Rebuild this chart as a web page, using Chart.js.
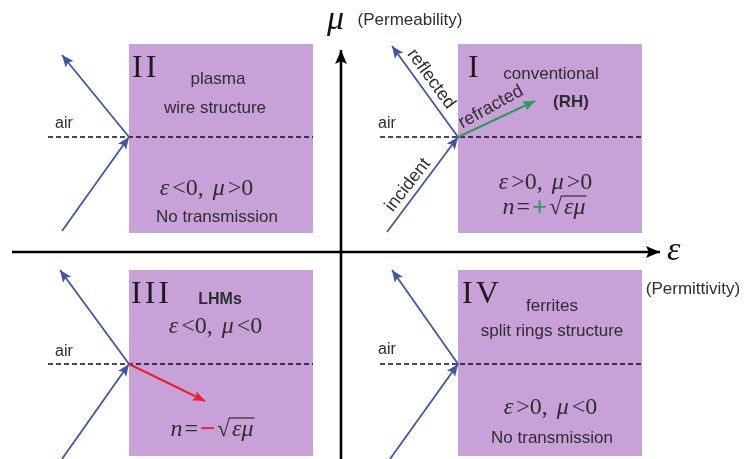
<!DOCTYPE html>
<html>
<head>
<meta charset="utf-8">
<script src="https://cdn.jsdelivr.net/npm/chart.js@4.4.1/dist/chart.umd.min.js"></script>
<style>
  html, body { margin: 0; padding: 0; background: #fff; }
</style>
</head>
<body>
<canvas id="diagram" width="755" height="459"></canvas>
<script>
'use strict';

// diagram space follows the picture: x 0..755 to the right, y 0..459 downwards
// quadrant order: I, II, III, IV
var quadrants = ['I', 'II', 'III', 'IV'];
var materials = ['conventional', 'plasma', 'LHMs', 'ferrites'];
var structures = ['(RH)', 'wire structure', '', 'split rings structure'];
var signs = [['ε', '>0, ', 'μ', '>0'], ['ε', '<0, ', 'μ', '>0'], ['ε', '<0, ', 'μ', '<0'], ['ε', '>0, ', 'μ', '<0']];
var boxLeft = [458, 129, 129, 458];
var boxRight = [642, 313, 313, 642];
var boxTop = [44, 44, 270, 270];
var boxBottom = [233, 233, 456, 456];
var interfaceY = [137, 137, 364, 364];
var airLeft = [380, 48, 48, 380];
var incidentFromX = [387, 62, 62, 390];
var incidentFromY = [232, 231, 459, 459];
var reflectedToX = [392, 62, 60, 392];
var reflectedToY = [46, 55, 270, 270];
var refractedToX = [535, null, 205, null];
var refractedToY = [101, null, 401, null];
// main axes: permittivity (horizontal) and permeability (vertical)
var epsAxisX = [12, 660];
var epsAxisY = 252;
var muAxisX = 341;
var muAxisY = [459, 50];

var BLUE = '#4156a6';
var GREEN = '#2f9a58';
var RED = '#e8212b';
var INK = '#2e2e2e';
var serif = '"Liberation Serif", "Times New Roman", serif';
var sans = '"Liberation Sans", Arial, sans-serif';

function seg(x0, y0, x1, y1) {
  return [{x: x0, y: y0}, {x: x1, y: y1}];
}

var datasets = [];
for (let i = 0; i < quadrants.length; ++i) {
  datasets.push({
    label: 'box ' + quadrants[i],
    data: seg(boxLeft[i], boxBottom[i], boxRight[i], boxBottom[i]),
    showLine: true, pointRadius: 0, borderWidth: 0,
    backgroundColor: '#c7a1d7',
    fill: {target: {value: boxTop[i]}},
    order: 5
  });
  datasets.push({
    label: 'interface ' + quadrants[i],
    data: seg(airLeft[i], interfaceY[i], boxRight[i], interfaceY[i]),
    showLine: true, pointRadius: 0, borderWidth: 1.7,
    borderColor: '#111', borderDash: [5, 3], order: 3
  });
  datasets.push({
    label: 'incident ' + quadrants[i], head: true,
    data: seg(incidentFromX[i], incidentFromY[i], boxLeft[i], interfaceY[i]),
    showLine: true, pointRadius: 0, borderWidth: 1.8, borderColor: BLUE, order: 2
  });
  datasets.push({
    label: 'reflected ' + quadrants[i], head: true,
    data: seg(boxLeft[i], interfaceY[i], reflectedToX[i], reflectedToY[i]),
    showLine: true, pointRadius: 0, borderWidth: 1.8, borderColor: BLUE, order: 2
  });
  if (refractedToX[i] !== null) {
    datasets.push({
      label: 'refracted ' + quadrants[i], head: true,
      data: seg(boxLeft[i], interfaceY[i], refractedToX[i], refractedToY[i]),
      showLine: true, pointRadius: 0, borderWidth: 2,
      borderColor: i === 0 ? GREEN : RED, order: 1
    });
  }
}
datasets.push({
  label: 'permittivity', head: true, headSize: 14,
  data: seg(epsAxisX[0], epsAxisY, epsAxisX[1], epsAxisY),
  showLine: true, pointRadius: 0, borderWidth: 2.6, borderColor: '#000', order: 4
});
datasets.push({
  label: 'permeability', head: true, headSize: 14,
  data: seg(muAxisX, muAxisY[0], muAxisX, muAxisY[1]),
  showLine: true, pointRadius: 0, borderWidth: 2.6, borderColor: '#000', order: 4
});

// arrow heads at the last point of every dataset flagged with head
var arrowHeads = {
  id: 'arrowHeads',
  afterDatasetsDraw: function(chart) {
    var ctx = chart.ctx;
    chart.data.datasets.forEach(function(ds, i) {
      if (!ds.head) return;
      var pts = chart.getDatasetMeta(i).data;
      var a = pts[pts.length - 2], b = pts[pts.length - 1];
      var ang = Math.atan2(b.y - a.y, b.x - a.x);
      var len = ds.headSize || 12, half = len * 0.42;
      ctx.save();
      ctx.translate(b.x, b.y);
      ctx.rotate(ang);
      ctx.fillStyle = ds.borderColor;
      ctx.beginPath();
      ctx.moveTo(0, 0);
      ctx.lineTo(-len, -half);
      ctx.lineTo(-len * 0.8, 0);
      ctx.lineTo(-len, half);
      ctx.closePath();
      ctx.fill();
      ctx.restore();
    });
  }
};

// text runs: [text, font, colour]; drawn centred on (cx, cy)
function drawRuns(ctx, parts, cx, cy, spacing) {
  ctx.textBaseline = 'middle';
  ctx.textAlign = 'left';
  var total = 0, widths = [];
  parts.forEach(function(p) {
    ctx.font = p[1];
    var w = ctx.measureText(p[0]).width + (spacing || 0);
    widths.push(w);
    total += w;
  });
  var x = cx - total / 2;
  var spans = [];
  parts.forEach(function(p, k) {
    ctx.font = p[1];
    ctx.fillStyle = p[2] || INK;
    ctx.fillText(p[0], x, cy);
    spans.push([x, x + widths[k]]);
    x += widths[k];
  });
  return spans;
}

var labels = {
  id: 'labels',
  afterDatasetsDraw: function(chart) {
    var ctx = chart.ctx;
    var sx = chart.scales.x, sy = chart.scales.y;
    function px(v) { return sx.getPixelForValue(v); }
    function py(v) { return sy.getPixelForValue(v); }
    ctx.save();

    // roman numerals
    var numX = [468, 132, 131, 462], numY = [77, 77, 303, 303];
    ctx.font = '32px ' + serif;
    ctx.fillStyle = '#1c1c1c';
    ctx.textAlign = 'left';
    ctx.textBaseline = 'alphabetic';
    ctx.letterSpacing = '3px';
    quadrants.forEach(function(q, i) { ctx.fillText(q, px(numX[i]), py(numY[i])); });
    ctx.letterSpacing = '0px';

    // material names and structures
    var matX = [551, 218, 220, 552], matY = [74, 79, 300, 306];
    var strX = [571, 215, 0, 552], strY = [102, 108, 0, 331];
    ctx.fillStyle = INK;
    ctx.textAlign = 'center';
    ctx.textBaseline = 'middle';
    materials.forEach(function(m, i) {
      ctx.font = (i === 2 ? 'bold 16px ' : '17px ') + sans;
      ctx.fillText(m, px(matX[i]), py(matY[i]));
      if (structures[i]) {
        ctx.font = (i === 0 ? 'bold 17px ' : '17px ') + sans;
        ctx.fillText(structures[i], px(strX[i]), py(strY[i]));
      }
    });
    ctx.font = '17px ' + sans;
    ctx.fillText('No transmission', px(217), py(217));
    ctx.fillText('No transmission', px(552), py(438));

    // air labels
    var airX = [387, 64, 64, 387], airY = [124, 124, 352, 350];
    ctx.font = '16px ' + sans;
    quadrants.forEach(function(q, i) { ctx.fillText('air', px(airX[i]), py(airY[i])); });

    // sign conditions
    var sigX = [547, 208, 217, 552], sigY = [183, 189, 327, 408];
    var it = 'italic 24px ' + serif, up = '24px ' + serif;
    signs.forEach(function(s, i) {
      drawRuns(ctx, [[s[0], it], [s[1], up], [s[2], it], [s[3], up]], px(sigX[i]), py(sigY[i]), 3);
    });

    // refractive index n = ±sqrt(eps mu)
    function index(sign, colour, cx, cy) {
      var spans = drawRuns(ctx, [
        ['n', it], ['=', up], [sign, '26px ' + sans, colour], ['√', '23px ' + serif], ['εμ', it]
      ], cx, cy, 2);
      ctx.strokeStyle = INK;
      ctx.lineWidth = 1.2;
      ctx.beginPath();
      ctx.moveTo(spans[3][1] - 3, cy - 12);
      ctx.lineTo(spans[4][1] - 1, cy - 12);
      ctx.stroke();
    }
    index('+', GREEN, px(545), py(208));
    index('−', RED, px(213), py(430));

    // ray names, rotated along the rays
    function rotated(text, cx, cy, deg) {
      ctx.save();
      ctx.translate(cx, cy);
      ctx.rotate(deg * Math.PI / 180);
      ctx.font = '18px ' + sans;
      ctx.fillStyle = INK;
      ctx.textAlign = 'center';
      ctx.textBaseline = 'middle';
      ctx.fillText(text, 0, 0);
      ctx.restore();
    }
    rotated('reflected', px(431), py(79), 54);
    rotated('refracted', px(491), py(107), -29);
    rotated('incident', px(408), py(185), -52);

    // axis titles
    ctx.fillStyle = '#111';
    ctx.textAlign = 'left';
    ctx.textBaseline = 'alphabetic';
    ctx.font = 'italic 34px ' + serif;
    ctx.fillText('μ', px(327), py(29));
    ctx.fillText('ε', px(667), py(260));
    ctx.fillStyle = INK;
    ctx.textAlign = 'center';
    ctx.textBaseline = 'middle';
    ctx.font = '17px ' + sans;
    ctx.fillText('(Permeability)', px(410), py(20));
    ctx.fillText('(Permittivity)', px(693), py(289));
    ctx.restore();
  }
};

var ctx = document.getElementById('diagram').getContext('2d');
var chart = new Chart(ctx, {
  type: 'scatter',
  data: {datasets: datasets},
  options: {
    responsive: false,
    animation: false,
    devicePixelRatio: 1,
    layout: {padding: 0},
    plugins: {legend: {display: false}, tooltip: {enabled: false}},
    scales: {
      x: {type: 'linear', min: 0, max: 755, display: false},
      y: {type: 'linear', min: 0, max: 459, reverse: true, display: false}
    }
  },
  plugins: [arrowHeads, labels]
});
</script>
</body>
</html>
